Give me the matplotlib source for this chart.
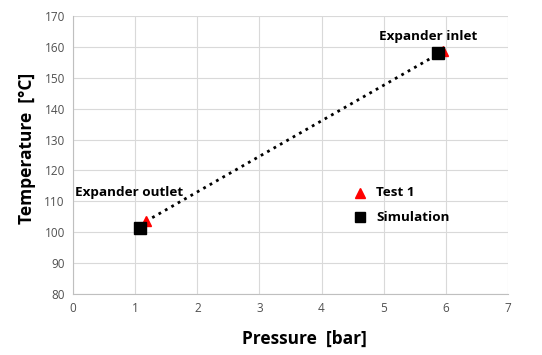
import matplotlib
matplotlib.use("Agg")
import matplotlib.pyplot as plt

test_p = [1.17, 5.95]
test_t = [103.5, 158.5]
sim_p = [1.08, 5.88]
sim_t = [101.5, 158.0]
xticks = [0, 1, 2, 3, 4, 5, 6, 7]
yticks = [80, 90, 100, 110, 120, 130, 140, 150, 160, 170]

plt.rcParams['font.family'] = ['Open Sans', 'DejaVu Sans']
fig = plt.figure(figsize=(5.42, 3.55), dpi=100)
ax = fig.add_axes([0.135, 0.172, 0.802, 0.783])

ax.plot(test_p, test_t, linestyle=':', color='black', linewidth=2, zorder=2)
ax.plot(test_p, test_t, linestyle='none', marker='^', color='red', markersize=7, zorder=3)
ax.plot(sim_p, sim_t, linestyle='none', marker='s', color='black', markersize=8, zorder=4)

ax.set_xlim(0, 7)
ax.set_ylim(80, 170)
ax.set_xticks(xticks)
ax.set_yticks(yticks)
ax.grid(True, color='#d9d9d9', linewidth=0.8)
ax.set_axisbelow(True)
for s in ['top', 'right']:
    ax.spines[s].set_visible(False)
for s in ['left', 'bottom']:
    ax.spines[s].set_color('#bfbfbf')
ax.tick_params(length=0, labelsize=8.5, labelcolor='#505050', pad=6)

ax.set_xlabel('Pressure  [bar]', fontsize=12.5, fontweight='bold', labelpad=8)
ax.xaxis.set_label_coords(0.531, -0.13)
ax.set_ylabel('Temperature  [\u00b0C]', fontsize=12.5, fontweight='bold', labelpad=8)
ax.yaxis.set_label_coords(-0.085, 0.525)

ax.text(5.71, 163.2, 'Expander inlet', fontsize=9.7, fontweight='bold', ha='center', va='center')
ax.text(0.03, 112.7, 'Expander outlet', fontsize=9.7, fontweight='bold', ha='left', va='center')

# legend drawn as markers + text
ax.plot([4.62], [112.7], linestyle='none', marker='^', color='red', markersize=7)
ax.plot([4.62], [104.8], linestyle='none', marker='s', color='black', markersize=7)
ax.text(4.88, 112.7, 'Test 1', fontsize=9.7, fontweight='bold', ha='left', va='center')
ax.text(4.88, 104.8, 'Simulation', fontsize=9.7, fontweight='bold', ha='left', va='center')

fig.savefig('out.png', dpi=100)
